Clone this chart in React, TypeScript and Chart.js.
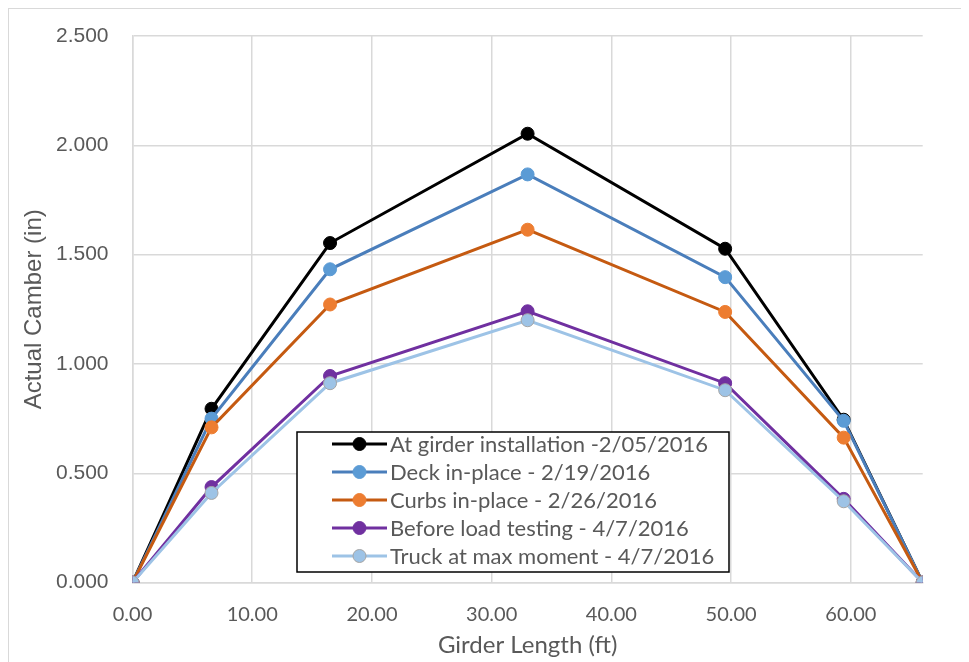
import React, { useEffect, useRef } from "react";
import { Chart, registerables } from "chart.js";

Chart.register(...registerables);

// ---- Data ----
const girderLength = [0, 6.6, 16.5, 33, 49.5, 59.4, 66];
const atInstallation = [0, 0.795, 1.553, 2.053, 1.527, 0.745, 0];
const deckInPlace = [0, 0.75, 1.433, 1.867, 1.397, 0.74, 0];
const curbsInPlace = [0, 0.71, 1.272, 1.614, 1.238, 0.663, 0];
const beforeLoadTesting = [0, 0.437, 0.945, 1.241, 0.912, 0.383, 0];
const truckAtMaxMoment = [0, 0.41, 0.912, 1.2, 0.88, 0.372, 0];

const seriesLabels = [
  "At girder installation -2/05/2016",
  "Deck in-place - 2/19/2016",
  "Curbs in-place - 2/26/2016",
  "Before load testing - 4/7/2016",
  "Truck at max moment - 4/7/2016",
];
const seriesValues = [atInstallation, deckInPlace, curbsInPlace, beforeLoadTesting, truckAtMaxMoment];
const lineColors = ["#000000", "#4A7EBB", "#C55A11", "#7030A0", "#9DC3E6"];
const markerFills = ["#000000", "#5B9BD5", "#ED7D31", "#7030A0", "#9DC3E6"];
const markerBorders = ["#000000", "#5B9BD5", "#ED7D31", "#7030A0", "#A5A5A5"];

const xTitle = "Girder Length (ft)";
const yTitle = "Actual Camber (in)";

const FONT = "Lato, 'Open Sans', sans-serif";
const ARIAL = "'Liberation Sans', Arial, sans-serif";
const TEXT = "#595959";
const GRID = "#d9d9d9";

const boxLegend = {
  id: "boxLegend",
  afterDraw(chart: any) {
    const ctx = chart.ctx as CanvasRenderingContext2D;
    const ca = chart.chartArea;
    const x0 = ca.left + 164.5;
    const y0 = ca.top + 396;
    const w = 432;
    const h = 140;
    ctx.save();
    ctx.fillStyle = "#ffffff";
    ctx.fillRect(x0, y0, w, h);
    ctx.strokeStyle = "#000000";
    ctx.lineWidth = 1.5;
    ctx.strokeRect(x0, y0, w, h);
    chart.data.datasets.forEach((ds: any, i: number) => {
      const cy = y0 + 12 + i * 28;
      const lx0 = x0 + 35;
      const lx1 = x0 + 90;
      ctx.beginPath();
      ctx.strokeStyle = ds.borderColor;
      ctx.lineWidth = 3;
      ctx.moveTo(lx0, cy);
      ctx.lineTo(lx1, cy);
      ctx.stroke();
      ctx.beginPath();
      ctx.arc((lx0 + lx1) / 2, cy, 6.5, 0, Math.PI * 2);
      ctx.fillStyle = ds.pointBackgroundColor;
      ctx.fill();
      ctx.lineWidth = 1;
      ctx.strokeStyle = ds.pointBorderColor;
      ctx.stroke();
      ctx.fillStyle = TEXT;
      ctx.font = `22px ${FONT}`;
      ctx.textBaseline = "middle";
      ctx.textAlign = "left";
      ctx.fillText(ds.label, x0 + 93, cy + 1);
    });
    ctx.restore();
  },
};

export default function App() {
  const ref = useRef<HTMLCanvasElement | null>(null);

  useEffect(() => {
    if (!ref.current) return;
    const datasets = seriesLabels.map((label, i) => ({
      label,
      data: girderLength.map((x, j) => ({ x, y: seriesValues[i][j] })),
      borderColor: lineColors[i],
      backgroundColor: markerFills[i],
      pointBackgroundColor: markerFills[i],
      pointBorderColor: markerBorders[i],
      pointBorderWidth: 1,
      pointRadius: 6.5,
      borderWidth: 3,
      showLine: true,
      fill: false,
      tension: 0,
      order: seriesLabels.length - i,
    }));

    const chart = new Chart(ref.current, {
      type: "scatter",
      data: { datasets },
      options: {
        animation: false,
        responsive: false,
        maintainAspectRatio: false,
        layout: { autoPadding: false, padding: { left: 0, top: 27, right: 46.3, bottom: 0 } },
        plugins: {
          legend: { display: false },
          tooltip: { enabled: false },
        },
        scales: {
          x: {
            type: "linear",
            min: 0,
            max: 66,
            afterFit: (s: any) => {
              s.height = 79.4;
            },
            ticks: {
              stepSize: 10,
              includeBounds: false,
              padding: 20,
              color: TEXT,
              font: { family: FONT, size: 20 },
              callback: (v: any) => Number(v).toFixed(2),
            },
            grid: { color: GRID, lineWidth: 1.5, drawTicks: false },
            border: { color: GRID, width: 1.5 },
            title: {
              display: true,
              text: xTitle,
              color: TEXT,
              font: { family: FONT, size: 24 },
              padding: { top: 0, bottom: 2.6 },
            },
          },
          y: {
            type: "linear",
            min: 0,
            max: 2.5,
            afterFit: (s: any) => {
              s.width = 123.5;
            },
            ticks: {
              stepSize: 0.5,
              padding: 24,
              color: TEXT,
              font: { family: ARIAL, size: 21, lineHeight: 0.1 },
              callback: (v: any) => Number(v).toFixed(3),
            },
            grid: { color: GRID, lineWidth: 1.5, drawTicks: false },
            border: { color: GRID, width: 1.5 },
            title: {
              display: true,
              text: yTitle,
              color: TEXT,
              font: { family: ARIAL, size: 24 },
              padding: { top: 10.6, bottom: 0 },
            },
          },
        },
      },
      plugins: [boxLegend],
    } as any);

    return () => chart.destroy();
  }, []);

  return (
    <div
      style={{
        position: "relative",
        width: 961,
        height: 654,
        boxSizing: "border-box",
        borderTop: "1px solid #d9d9d9",
        borderLeft: "1px solid #d9d9d9",
        background: "#ffffff",
      }}
    >
      <canvas
        ref={ref}
        width={960}
        height={653}
        style={{ position: "absolute", left: 0, top: 0, width: 960, height: 653 }}
      />
    </div>
  );
}
